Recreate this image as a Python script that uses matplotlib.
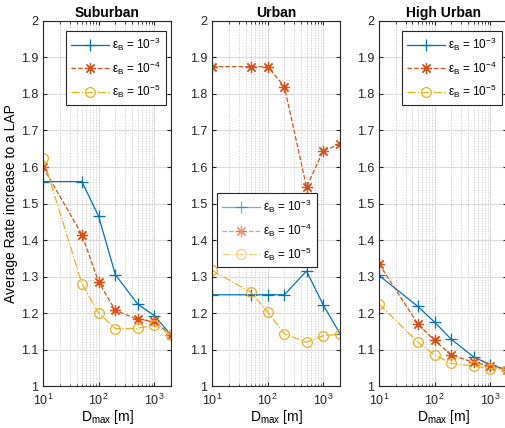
import numpy as np
import matplotlib.pyplot as plt
from matplotlib.ticker import LogLocator, NullFormatter, MultipleLocator

plt.rcParams['font.family'] = ['Liberation Sans', 'DejaVu Sans']
plt.rcParams['mathtext.fontset'] = 'custom'
plt.rcParams['mathtext.rm'] = 'Liberation Sans'
plt.rcParams['mathtext.it'] = 'Liberation Sans'

# distancia maxima [m]
d_max = [10, 50, 100, 200, 500, 1000, 2000]

# ganho medio de taxa por cenario e por epsilon_B
sub_e3 = [1.56, 1.56, 1.465, 1.305, 1.225, 1.193, 1.14]
sub_e4 = [1.60, 1.415, 1.285, 1.207, 1.183, 1.177, 1.14]
sub_e5 = [1.625, 1.28, 1.20, 1.157, 1.158, 1.167, 1.14]

urb_e3 = [1.25, 1.25, 1.25, 1.25, 1.315, 1.222, 1.143]
urb_e4 = [1.875, 1.875, 1.875, 1.82, 1.545, 1.645, 1.662]
urb_e5 = [1.317, 1.257, 1.203, 1.143, 1.12, 1.138, 1.142]

hu_e3 = [1.303, 1.218, 1.175, 1.128, 1.08, 1.058, 1.045]
hu_e4 = [1.335, 1.17, 1.125, 1.085, 1.065, 1.055, 1.045]
hu_e5 = [1.225, 1.12, 1.085, 1.062, 1.055, 1.048, 1.045]

titles = ['Suburban', 'Urban', 'High Urban']
labels = [r'$\epsilon_{\rm B}$ = 10$^{-3}$', r'$\epsilon_{\rm B}$ = 10$^{-4}$', r'$\epsilon_{\rm B}$ = 10$^{-5}$']
series = [[sub_e3, sub_e4, sub_e5], [urb_e3, urb_e4, urb_e5], [hu_e3, hu_e4, hu_e5]]

cores = ['#0072BD', '#D95319', '#EDB120']
estilos = ['-', '--', '-.']
marcas = ['+', (8, 2, 0), 'o']  # (8, 2, 0) = asterisco de 8 bracos

fig = plt.figure(figsize=(5.06, 4.28), dpi=100)
lefts = [0.085, 0.419, 0.749]
legend_pos = [('upper right', (0.96, 0.973)), ('upper left', (0.04, 0.529)), ('upper right', (0.96, 0.973))]

for i in range(3):
    ax = fig.add_axes([lefts[i], 0.098, 0.253, 0.853])
    for j in range(3):
        ax.plot(d_max, series[i][j], color=cores[j], linestyle=estilos[j], marker=marcas[j],
                markersize=8 if j < 2 else 7, markerfacecolor='none' if j == 2 else cores[j],
                markeredgewidth=0.9, linewidth=0.9, label=labels[j])
    ax.set_xscale('log')
    ax.set_xlim(10, 2000)
    ax.set_ylim(1, 2)
    ax.yaxis.set_major_locator(MultipleLocator(0.1))
    ax.xaxis.set_major_locator(LogLocator(base=10, numticks=10))
    ax.xaxis.set_minor_locator(LogLocator(base=10, subs=np.arange(2, 10), numticks=10))
    ax.xaxis.set_minor_formatter(NullFormatter())
    ax.yaxis.set_major_formatter(plt.FuncFormatter(lambda v, p: ('%g' % round(v, 1))))
    ax.grid(True, which='major', color='#dcdcdc', linewidth=0.8)
    ax.grid(True, which='minor', axis='x', color='#c8c8c8', linestyle=':', linewidth=0.7)
    ax.set_axisbelow(True)
    ax.tick_params(which='both', direction='in', top=True, right=True, labelsize=9, colors='#262626')
    ax.tick_params(which='major', length=3)
    ax.tick_params(which='minor', length=1.8)
    ax.tick_params(axis='x', which='major', pad=5)
    for s in ax.spines.values():
        s.set_color('#262626')
        s.set_linewidth(0.8)
    ax.set_title(titles[i], fontsize=10, fontweight='bold', pad=3)
    ax.set_xlabel(r'D$_{\rm max}$ [m]', fontsize=10, labelpad=0)
    if i == 0:
        ax.set_ylabel('Average Rate increase to a LAP', fontsize=10, labelpad=2)
    loc, anchor = legend_pos[i]
    leg = ax.legend(loc=loc, bbox_to_anchor=anchor, fontsize=8.5, fancybox=False, framealpha=1,
                    edgecolor='#262626', handlelength=3.2, borderpad=0.4, labelspacing=0.55,
                    handletextpad=0.3, borderaxespad=0)
    leg.get_frame().set_linewidth(0.8)
    if i == 1:
        for h in leg.legend_handles:
            h.set_alpha(0.55)

fig.savefig('out.png', dpi=100)
